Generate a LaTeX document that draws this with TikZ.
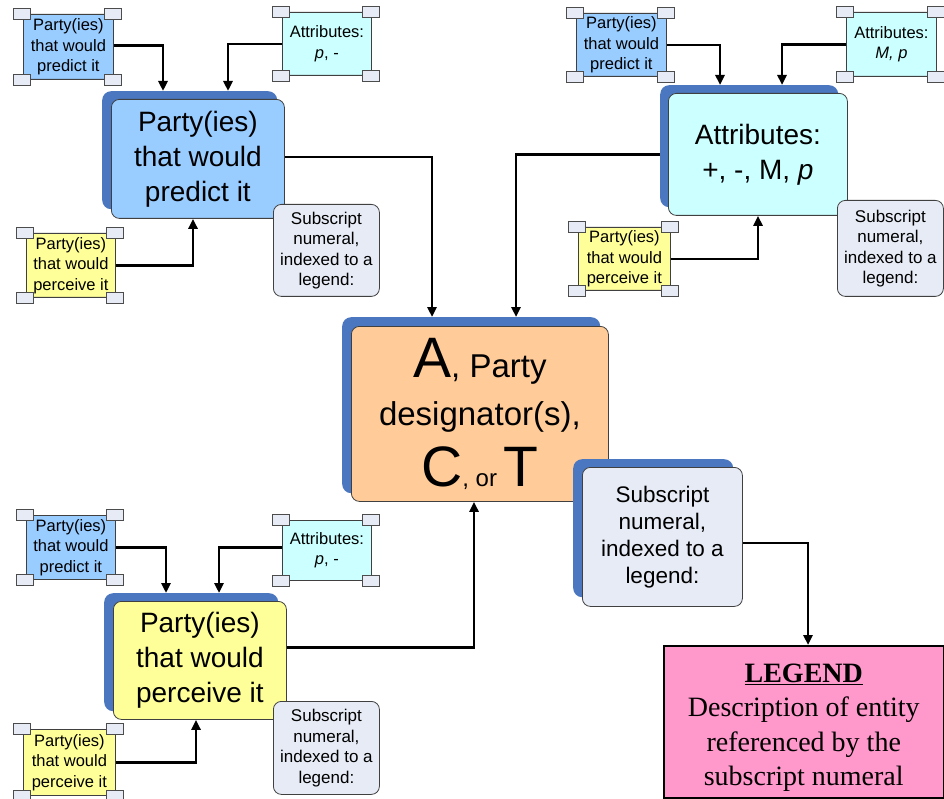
\documentclass[tikz,border=0pt]{standalone}
\usepackage{fontspec}
\setmainfont{Liberation Sans}
\newfontfamily\timesf{Liberation Serif}
\usetikzlibrary{arrows.meta,calc}
\definecolor{predblue}{HTML}{99CCFF}
\definecolor{attrcyan}{HTML}{CCFFFF}
\definecolor{percyel}{HTML}{FFFF99}
\definecolor{ctrorange}{HTML}{FFCC99}
\definecolor{subgrey}{HTML}{E6EBF5}
\definecolor{shadowblue}{HTML}{4A77BF}
\definecolor{legpink}{HTML}{FF99CC}
\definecolor{edgegrey}{HTML}{404040}
\newcommand\smallfnt{\fontsize{16.5}{20.5}\selectfont}
\newcommand\bigfnt{\fontsize{28}{35}\selectfont}
\newcommand\subfnt{\fontsize{17}{20.5}\selectfont}
\newcommand\csubfnt{\fontsize{22.5}{27}\selectfont}
\newcommand\handles[1]{\foreach \c in {north west,north east,south west,south east}{\draw[handlebox] ($(#1.\c)+(-9.5,-5.5)$) rectangle +(17,11);}}
\begin{document}
\begin{tikzpicture}[x=1pt,y=-1pt,
  smallbox/.style={draw=edgegrey, line width=0.8pt, rounded corners=4pt, inner sep=0pt, align=center, font=\smallfnt, anchor=north west},
  bigbox/.style={draw=edgegrey, line width=0.8pt, rounded corners=8pt, inner sep=0pt, align=center, font=\bigfnt, anchor=north west},
  subbox/.style={draw=edgegrey, line width=0.8pt, fill=subgrey, rounded corners=8pt, inner sep=0pt, align=center, font=\subfnt, anchor=north west},
  shadowbox/.style={fill=shadowblue, rounded corners=9pt, inner sep=0pt, anchor=north west},
  handlebox/.style={draw=gray!60!black, fill=subgrey, line width=0.7pt},
  arr/.style={line width=2.5pt, -{Triangle[length=10pt,width=9pt]}},
  link/.style={line width=2.5pt}]
\clip (0,0) rectangle (944,799);
\fill[white] (0,0) rectangle (944,799);

% ---------- top-left cluster ----------
\node[smallbox, fill=predblue, minimum width=90, minimum height=65] (tlpp) at (23,14) {Party(ies)\\that would\\predict it};
\node[smallbox, fill=attrcyan, minimum width=89, minimum height=63] (tlat) at (282,12) {Attributes:\\\textit{p}, -};
\node[shadowbox, minimum width=175, minimum height=118] (tlbig-s) at (102,91) {};
\node[bigbox, fill=predblue, minimum width=173, minimum height=119] (tlbig) at (111,99) {Party(ies)\\that would\\predict it};
\node[smallbox, fill=percyel, minimum width=89, minimum height=64] (tlpc) at (26,233) {Party(ies)\\that would\\perceive it};
\node[subbox, minimum width=106, minimum height=92] (tlsub) at (273,204) {Subscript\\numeral,\\indexed to a\\legend:};
\handles{tlpp}\handles{tlat}\handles{tlpc}

% ---------- top-right cluster ----------
\node[smallbox, fill=predblue, minimum width=90, minimum height=63] (trpp) at (576,13) {Party(ies)\\that would\\predict it};
\node[smallbox, fill=attrcyan, minimum width=90, minimum height=64] (trat) at (846,12) {Attributes:\\\textit{M, p}};
\node[shadowbox, minimum width=178, minimum height=122] (trbig-s) at (660,85) {};
\node[bigbox, fill=attrcyan, minimum width=179, minimum height=122] (trbig) at (668,93) {Attributes:\\+, -, M, \textit{p}};
\node[smallbox, fill=percyel, minimum width=92, minimum height=63] (trpc) at (578,227) {Party(ies)\\that would\\perceive it};
\node[subbox, minimum width=106, minimum height=96] (trsub) at (837,200) {Subscript\\numeral,\\indexed to a\\legend:};
\handles{trpp}\handles{trat}\handles{trpc}

% ---------- centre ----------
\node[shadowbox, minimum width=258, minimum height=176] (ctr-s) at (342,317) {};
\node[bigbox, fill=ctrorange, minimum width=257, minimum height=175, font=\fontsize{33}{48}\selectfont] (ctr) at (351,326)
  {{\fontsize{57}{60}\selectfont A}, Party\\designator(s),\\[13pt]{\fontsize{57}{60}\selectfont C}{\fontsize{24}{28}\selectfont, or }{\fontsize{57}{60}\selectfont T}};
\node[shadowbox, minimum width=160, minimum height=138] (csub-s) at (573,459) {};
\node[subbox, font=\csubfnt, minimum width=160, minimum height=139] (csub) at (582,467) {Subscript\\numeral,\\indexed to a\\legend:};
\node[draw=black, line width=1.5pt, fill=legpink, inner sep=0pt, anchor=north west, align=center,
      font=\timesf\fontsize{28}{34.5}\selectfont, minimum width=280, minimum height=152] (lg) at (663,645)
  {\rule{0pt}{30pt}\textbf{\underline{LEGEND}}\\Description of entity\\referenced by the\\subscript numeral};

% ---------- bottom-left cluster ----------
\node[smallbox, fill=predblue, minimum width=89, minimum height=64] (blpp) at (26,515) {Party(ies)\\that would\\predict it};
\node[smallbox, fill=attrcyan, minimum width=89, minimum height=60] (blat) at (282,520) {Attributes:\\\textit{p}, -};
\node[shadowbox, minimum width=174, minimum height=118] (blbig-s) at (104,593) {};
\node[bigbox, fill=percyel, minimum width=173, minimum height=118] (blbig) at (113,601) {Party(ies)\\that would\\perceive it};
\node[smallbox, fill=percyel, minimum width=92, minimum height=66] (blpc) at (23,729) {Party(ies)\\that would\\perceive it};
\node[subbox, minimum width=106, minimum height=93] (blsub) at (273,701) {Subscript\\numeral,\\indexed to a\\legend:};
\handles{blpp}\handles{blat}\handles{blpc}

% ---------- connectors ----------
\draw[arr] ([yshift=1.5pt]tlpp.east) -| ($(tlbig-s.north west)+(61,0)$);
\draw[arr] (tlat.west) -| ($(tlbig-s.north west)+(126,0)$);
\draw[arr] (tlpc.east) -| ($(tlbig.south west)+(82,0)$);
\draw[arr] ([yshift=2pt]tlbig.east) -| ($(ctr-s.north west)+(90,0)$);

\draw[arr] (trpp.east) -| ($(trbig-s.north west)+(60,0)$);
\draw[arr] (trat.west) -| ($(trbig-s.north west)+(122,0)$);
\draw[arr] (trpc.east) -| ($(trbig.south west)+(90,0)$);
\draw[arr] (trbig-s.west |- trbig.west) -| ($(ctr-s.north west)+(174,0)$);

\draw[arr] (blpp.east) -| ($(blbig-s.north west)+(62,0)$);
\draw[arr] ([yshift=3pt]blat.west) -| ($(blbig-s.north west)+(115,0)$);
\draw[arr] (blpc.east) -| ($(blbig.south west)+(83,0)$);
\draw[arr] ([yshift=13pt]blbig.east) -| ($(ctr.south west)+(123,0)$);

\draw[arr] ([yshift=-6pt]csub.east) -| ($(lg.north west)+(145,0)$);
\end{tikzpicture}
\end{document}
